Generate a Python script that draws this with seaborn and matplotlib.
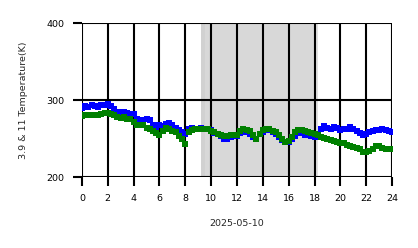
import numpy as np
import pandas as pd
import matplotlib
matplotlib.use("Agg")
import matplotlib.pyplot as plt
import seaborn as sns

hours = np.arange(0, 24.01, 0.25)
t39 = [290, 292, 291, 293, 292, 291, 293, 294, 295, 292, 288, 285, 284, 285, 283, 282,
       282, 276, 273, 274, 276, 274, 268, 265, 267, 266, 269, 270, 267, 264, 261, 258,
       256, 262, 264, 263, 263, 264, 263, 262, 261, 257, 256, 253, 250, 249, 252, 254,
       253, 257, 259, 258, 256, 252, 250, 256, 259, 262, 261, 259, 256, 252, 248, 245,
       246, 249, 253, 257, 257, 255, 254, 253, 252, 252, 263, 266, 264, 263, 265, 264,
       261, 263, 262, 265, 262, 260, 257, 255, 256, 259, 260, 261, 261, 262, 261, 260,
       258]
t11 = [279, 280, 281, 281, 280, 281, 282, 283, 283, 282, 280, 278, 277, 278, 276, 275,
       272, 268, 267, 267, 264, 262, 260, 257, 255, 260, 264, 263, 260, 258, 253, 249,
       243, 258, 261, 262, 262, 263, 262, 262, 260, 258, 256, 255, 253, 253, 254, 255,
       255, 260, 262, 261, 260, 254, 250, 256, 261, 263, 262, 260, 258, 254, 250, 246,
       247, 252, 258, 261, 261, 260, 258, 257, 256, 254, 252, 251, 249, 248, 247, 245,
       244, 244, 242, 240, 239, 238, 236, 232, 232, 234, 236, 240, 241, 238, 237, 236,
       236]
xticks = list(range(0, 25, 2))
yticks = [200, 300, 400]

sns.set_style("ticks")
plt.rcParams['font.family'] = ['DejaVu Sans']

fig = plt.figure(figsize=(4.18, 2.48), dpi=100)
ax = fig.add_axes([0.196, 0.286, 0.742, 0.621])

ax.axvspan(9.25, 9.5, color='gray', alpha=0.36, lw=0, zorder=0)
ax.axvspan(9.5, 17.95, color='gray', alpha=0.3, lw=0, zorder=0)
ax.axvspan(17.95, 18.3, color='gray', alpha=0.24, lw=0, zorder=0)

df = pd.DataFrame({'h': hours, 'b': t39, 'g': t11})
sns.scatterplot(data=df, x='h', y='b', marker='s', s=14, color='blue', linewidth=0, ax=ax, zorder=3)
sns.scatterplot(data=df, x='h', y='g', marker='s', s=14, color='green', linewidth=0, ax=ax, zorder=4)

ax.set_xlim(0, 24)
ax.set_ylim(200, 400)
ax.set_xticks(xticks)
ax.set_xticklabels([str(v) for v in xticks])
ax.set_yticks(yticks)
ax.grid(True, color='black', linewidth=1.5, zorder=2)
ax.set_axisbelow(False)
for s in ax.spines.values():
    s.set_visible(False)
ax.tick_params(axis='both', direction='out', length=6.5, width=1.5, colors='black',
               labelsize=6.8, pad=6, bottom=True, left=True, top=False, right=False)
ax.set_xlabel('2025-05-10', fontsize=6.8, labelpad=11)
ax.set_ylabel('3.9 & 11 Temperature(K)', fontsize=6.8, labelpad=13)

fig.savefig('out.png', dpi=100)
